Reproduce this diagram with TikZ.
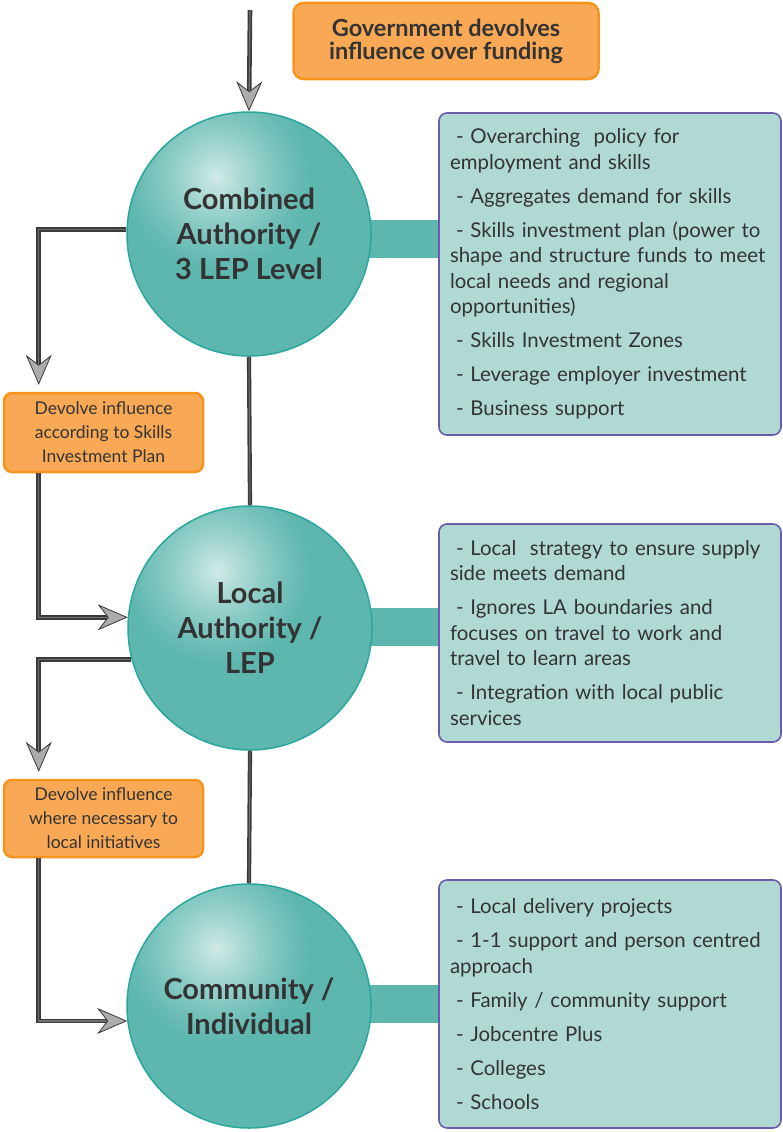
\documentclass[tikz,border=0pt]{standalone}
\usepackage{fontspec}
\setmainfont{Lato}
\usetikzlibrary{arrows.meta,backgrounds}
\definecolor{ballcol}{HTML}{5DB7AF}
\definecolor{ballhi}{HTML}{D3EBE8}
\definecolor{ballrim}{HTML}{2AA79C}
\definecolor{infofill}{HTML}{B1D9D4}
\definecolor{inforim}{HTML}{6A5CA8}
\definecolor{orfill}{HTML}{F9A955}
\definecolor{orrim}{HTML}{F7941E}
\definecolor{ink}{HTML}{333333}
\definecolor{pipe}{HTML}{3A3A3A}
\definecolor{pipein}{HTML}{707070}

\begin{document}
\begin{tikzpicture}[x=1pt,y=-1pt,>={Stealth[length=30pt,width=26pt,inset=10pt,color=pipe,fill=gray!65,line width=0.8pt]}]
 \tikzstyle{level} = [circle,draw=ballrim,line width=1.5pt,minimum size=244pt,inner sep=0pt,
   text=ink,align=center,font=\fontsize{29}{35}\selectfont\bfseries]
 \tikzstyle{info} = [draw=inforim,line width=1.6pt,fill=infofill,rounded corners=8pt,minimum width=342pt,
   text width=320pt,inner xsep=11pt,align=left,text=ink,font=\fontsize{20.4}{25.5}\selectfont]
 \tikzstyle{devolve} = [draw=orrim,line width=2.5pt,fill=orfill,rounded corners=8pt,text=ink,align=center]
 \tikzstyle{flow} = [->,draw=pipe,double=pipein,double distance=1.2pt,line width=1.7pt,shorten >=7pt]
 \tikzstyle{link} = [draw=pipe,double=pipein,double distance=1pt,line width=1.6pt]
 \newcommand{\itm}{\hspace*{6pt}- }
 \newcommand{\gap}{\\[8.5pt]}

 \useasboundingbox (0,0) rectangle (782,1132);

  % Levels
  \node[level] (ca) at (249,234) {Combined\\Authority /\\3 LEP Level};
  \node[level] (la) at (250,628) {Local\\Authority /\\LEP};
  \node[level] (ci) at (249,1006) {Community /\\Individual};

  % What each level does
  \node[info,minimum height=322pt] (info1) at (610,274) {\itm Overarching\ \ policy for\\employment and skills\gap
    \itm Aggregates demand for skills\gap
    \itm Skills investment plan (power to\\shape and structure funds to meet\\local needs and regional\\opportunities)\gap
    \itm Skills Investment Zones\gap
    \itm Leverage employer investment\gap
    \itm Business support};
  \node[info,minimum height=218pt] (info2) at (610,633) {\itm Local\ \ strategy to ensure supply\\side meets demand\gap
    \itm Ignores LA boundaries and\\focuses on travel to work and\\travel to learn areas\gap
    \itm Integration with local public\\services};
  \node[info,minimum height=248pt] (info3) at (610,1004) {\itm Local delivery projects\gap
    \itm 1-1 support and person centred\\approach\gap
    \itm Family / community support\gap
    \itm Jobcentre Plus\gap
    \itm Colleges\gap
    \itm Schools};

  % Bars and shaded balls behind the circle outlines
  \begin{scope}[on background layer]
  \fill[ballcol] ([yshift=14pt]ca.center) rectangle ([yshift=-24pt]ca.center -| info1.west);
  \fill[ballcol] ([yshift=20pt]la.center) rectangle ([yshift=-18pt]la.center -| info2.west);
  \fill[ballcol] ([yshift=21pt]ci.center) rectangle ([yshift=-17pt]ci.center -| info3.west);
  \foreach \c in {ca,la,ci} {
    \begin{scope}
    \clip (\c.center) circle (122pt);
    \fill[ballcol] (\c.center) circle (122pt);
    \foreach \r in {96,93,...,2} {
      \pgfmathsetmacro{\p}{100*(1-\r/98)^1.3}
      \fill[ballhi!\p!ballcol] ([xshift=-32pt,yshift=57pt]\c.center) circle (\r pt);}
    \end{scope}}
  \end{scope}

  % Devolve boxes
  \node[devolve,minimum width=305pt,minimum height=76pt,rounded corners=10pt,font=\fontsize{23.5}{23}\selectfont\bfseries] (gov) at (446,41) {Government devolves\\influence over funding};
  \node[devolve,minimum width=199pt,minimum height=79pt,font=\fontsize{17.5}{24}\selectfont] (dv1) at (103.5,432.5) {Devolve influence\\according to Skills\\Investment Plan};
  \node[devolve,minimum width=199pt,minimum height=77pt,font=\fontsize{17.5}{24}\selectfont] (dv2) at (103.5,818.5) {Devolve influence\\where necessary to\\local initiatives};

  % Arrows
  \coordinate (src) at (250,10);
  \draw[flow,shorten >=0pt] (src) -- (ca.north);
  \draw[flow] (ca.178) -| ([xshift=36pt]dv1.north west);
  \draw[flow,shorten >=0pt] ([xshift=36pt]dv1.south west) |- (la.175);
  \draw[flow] (la.195) -| ([xshift=36pt]dv2.north west);
  \draw[flow,shorten >=0pt] ([xshift=36pt]dv2.south west) |- (ci.187);
  \draw[link] (ca.south) -- (la.north);
  \draw[link] (la.south) -- (ci.north);

\end{tikzpicture}
\end{document}
